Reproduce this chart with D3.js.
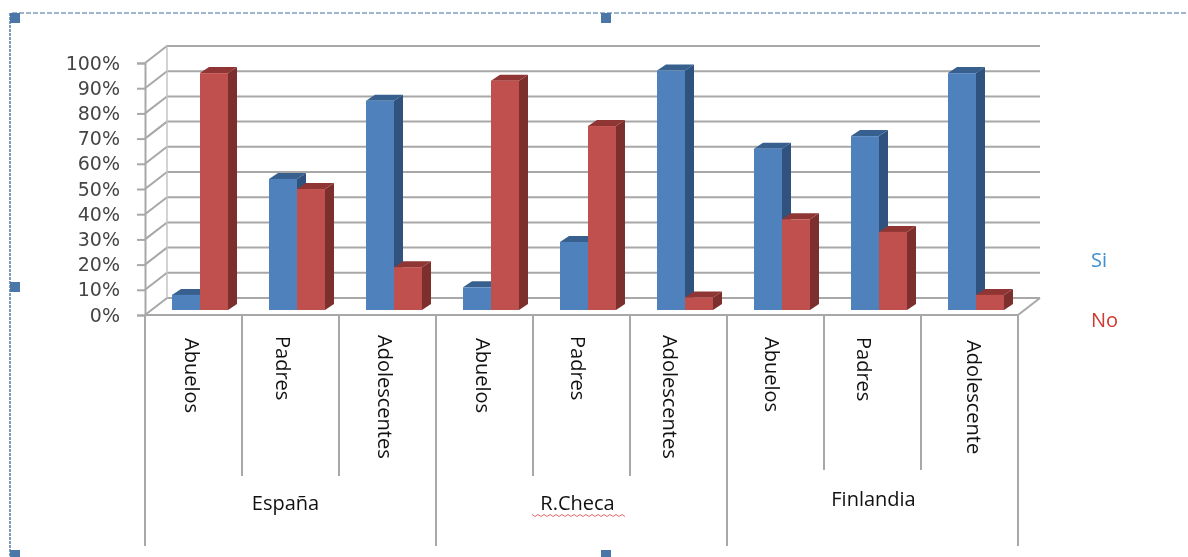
<!DOCTYPE html>
<html><head><meta charset="utf-8">
<script src="https://cdn.jsdelivr.net/npm/d3@7/dist/d3.min.js"></script>
<style>html,body{margin:0;padding:0;background:#fff;overflow:hidden}svg{display:block;filter:blur(.55px)}</style>
</head><body><svg id="c" width="1188" height="557"></svg>
<script>
const subgroups = ["Abuelos","Padres","Adolescentes","Abuelos","Padres","Adolescentes","Abuelos","Padres","Adolescente"];
const countries = ["España","R.Checa","Finlandia"];
const series = ["Si","No"];
const siValues = [6,52,83,9,27,95,64,69,94];
const noValues = [94,48,17,91,73,5,36,31,6];
const tickValues = [0,10,20,30,40,50,60,70,80,90,100];

const svg = d3.select("#c");
const L=145,R=1018,Y0=315,Y100=63,DX=22,DY=17,BX=9,BY=6,BASE=5;
const idx = d3.range(subgroups.length);
const x = d3.scaleBand().domain(idx).range([L,R]);
const inner = d3.scaleBand().domain(series).range([27,83]);
const yFront = d3.scaleLinear().domain([0,100]).range([Y0,Y100]);
const yBar = v => yFront(v)-BASE;
const grey="#a8a8a8";
const mono="'DejaVu Sans',sans-serif", cal="'Open Sans','Noto Sans',sans-serif";

// frame
const fc="#7f9cc0";
svg.append("line").attr("x1",12).attr("x2",1188).attr("y1",13).attr("y2",13).attr("stroke",fc).attr("stroke-width",1.5).attr("stroke-dasharray","5 2");
svg.append("line").attr("x1",10).attr("x2",10).attr("y1",13).attr("y2",557).attr("stroke",fc).attr("stroke-width",2).attr("stroke-dasharray","3 1");
[[10,13],[601,13],[10,282],[10,550],[601,550]].forEach(h=>svg.append("rect").attr("x",h[0]).attr("y",h[1]).attr("width",10).attr("height",10).attr("fill","#4a76a8"));

// walls and gridlines
const grid = svg.append("g").attr("fill","none").attr("stroke",grey).attr("stroke-width",2);
tickValues.forEach(t=>{
  const y=yFront(t);
  grid.append("path").attr("d",d3.line()([[L,y],[L+DX,y-DY],[R+DX,y-DY]]));
});
grid.append("path").attr("d",d3.line()([[L,Y0],[R,Y0],[R+DX,Y0-DY]]));
grid.append("line").attr("x1",L+DX).attr("x2",L+DX).attr("y1",Y100-DY).attr("y2",Y0-DY).attr("stroke-width",1.5).attr("stroke","#c4c4c4");

// value axis
const ax = svg.append("g").attr("transform",`translate(${L},0)`)
  .call(d3.axisLeft(yFront).tickValues(tickValues).tickFormat(d=>d+"%").tickSize(8).tickPadding(17));
ax.selectAll("line,path").attr("stroke",grey).attr("stroke-width",2);
ax.selectAll("text").attr("font-family",mono).attr("font-size",19).attr("fill","#454545");

// bars
const palette = {Si:{f:"#4f81bd",s:"#30527e",t:"#37608f"},No:{f:"#c0504d",s:"#7d2f2d",t:"#8f3634"}};
idx.forEach(i=>{
  series.forEach((s,k)=>{
    const v=(k===0?siValues:noValues)[i];
    const x0=x(i)+inner(s),w=inner.bandwidth(),yt=yBar(v),yb=yBar(0),c=palette[s];
    const g=svg.append("g");
    g.append("path").attr("fill",c.s).attr("d",d3.line()([[x0+w,yt],[x0+w+BX,yt-BY],[x0+w+BX,yb-BY],[x0+w,yb]])+"Z");
    g.append("path").attr("fill",c.t).attr("d",d3.line()([[x0,yt],[x0+BX,yt-BY],[x0+w+BX,yt-BY],[x0+w,yt]])+"Z");
    g.append("rect").attr("x",x0).attr("y",yt).attr("width",w).attr("height",yb-yt).attr("fill",c.f);
  });
});

// category axis dividers
const low=svg.append("g").attr("stroke",grey).attr("stroke-width",2);
idx.concat([subgroups.length]).forEach(i=>{
  const px=i<subgroups.length?x(i):R;
  low.append("line").attr("x1",px).attr("x2",px).attr("y1",Y0).attr("y2",i%3===0?546:(i<6?476:470));
});

// sub-category labels
const labelShift=[-1,-7,-2,-1,-3,-8,-3,-8,5];
const labelTop=[338,336,335,338,336,335,337,337,340];
subgroups.forEach((t,i)=>{
  const px=x(i)+x.bandwidth()/2+labelShift[i];
  svg.append("text").attr("transform",`translate(${px},${labelTop[i]}) rotate(90)`)
    .attr("dominant-baseline","central").attr("font-family",cal).attr("font-size",20).attr("fill","#111").text(t);
});

// country labels
const cy=[502,502,498];
countries.forEach((t,i)=>{
  const cx=x(i*3+1)+x.bandwidth()/2-(i===0?5:i===1?4:-1);
  svg.append("text").attr("x",cx).attr("y",cy[i]).attr("text-anchor","middle").attr("dominant-baseline","central")
    .attr("font-family",cal).attr("font-size",20).attr("fill","#111").text(t);
});
// spell-check squiggle
const sq=d3.range(532,626,3).map((p,i)=>[p,515+(i%2?1.5:-0.5)]);
svg.append("path").attr("d",d3.line()(sq)).attr("fill","none").attr("stroke","#e86a6a").attr("stroke-width",1);

// legend
const legendColors={Si:"#3f8fd0",No:"#cc3a30"};
const legendY=d3.scalePoint().domain(series).range([259,319]);
series.forEach(s=>svg.append("text").attr("x",1091).attr("y",legendY(s)).attr("dominant-baseline","central")
  .attr("font-family",cal).attr("font-size",20).attr("fill",legendColors[s]).text(s));
</script></body></html>
